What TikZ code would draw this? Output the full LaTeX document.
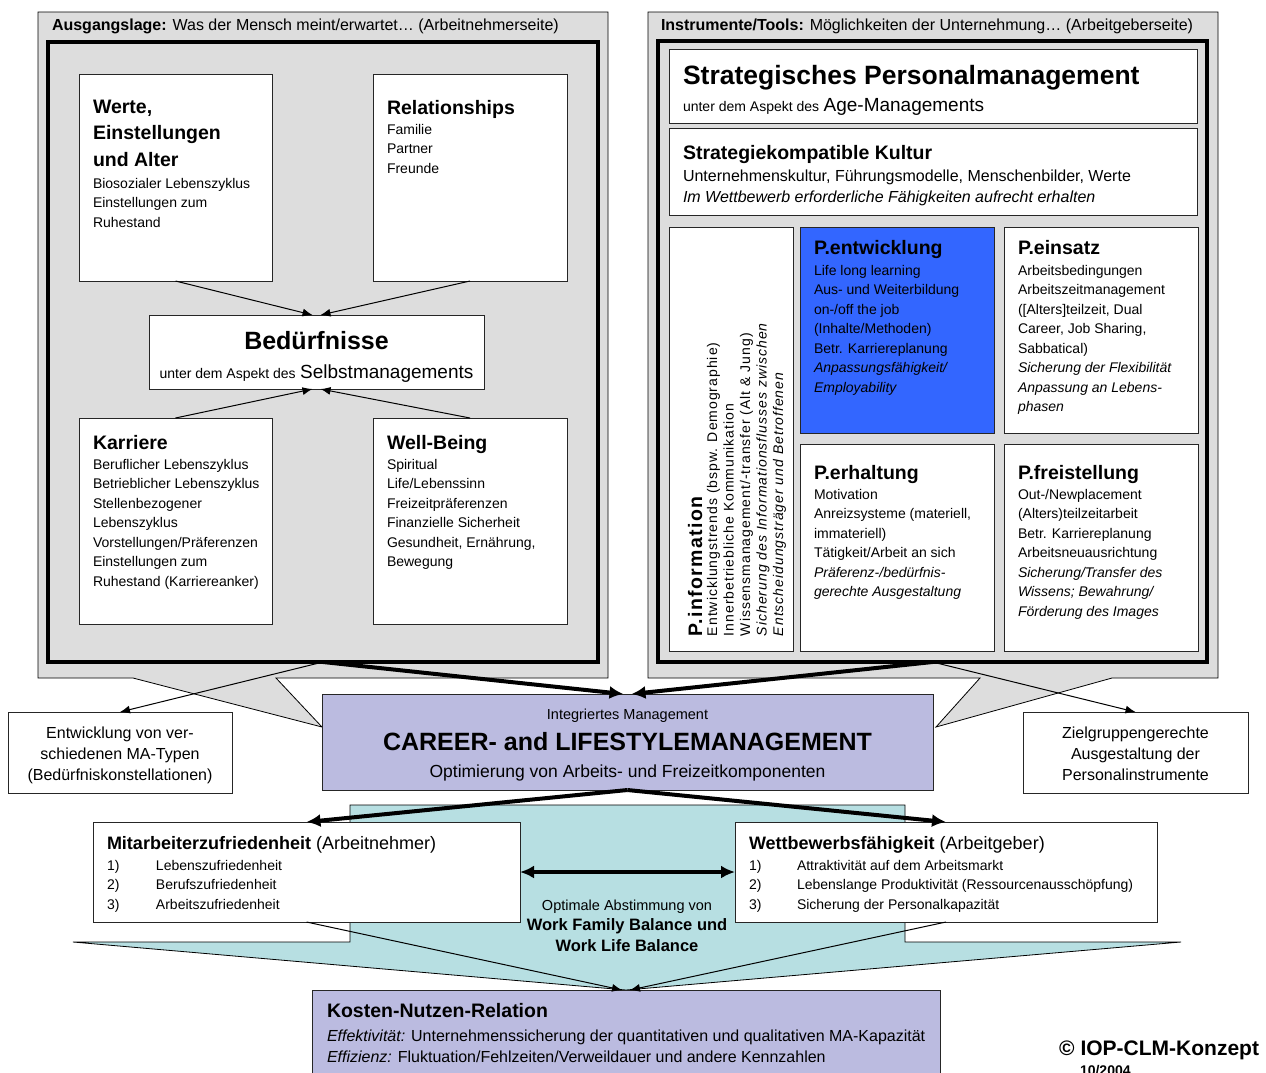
\documentclass[tikz,border=0pt]{standalone}
\usepackage{fontspec}
\setmainfont{Liberation Sans}
\newfontfamily\spacedfont{Liberation Sans}[LetterSpace=7]
\usetikzlibrary{calc,arrows.meta}
\definecolor{panelgray}{RGB}{221,221,221}
\definecolor{pblue}{RGB}{51,102,255}
\definecolor{lav}{RGB}{187,187,224}
\definecolor{tealfill}{RGB}{183,223,226}
\newcommand\fsz[2]{\fontsize{#1}{#2}\selectfont}
\begin{document}
\begin{tikzpicture}[x=1pt,y=-1pt,
  pbox/.style={draw=black!85, line width=0.9pt, fill=white, anchor=north west, inner sep=0pt, outer sep=0pt},
  frame/.style={draw=black, line width=4pt, anchor=north west, inner sep=0pt, outer sep=0pt},
  txt/.style={anchor=north west, inner sep=0pt, outer sep=0pt, align=left},
  ctxt/.style={inner sep=0pt, outer sep=0pt, align=center},
  head/.style={font=\fsz{19.5}{26.5}\bfseries},
  body/.style={font=\fsz{14}{19.5}},
  tarrow/.style={line width=1pt, -{Latex[length=10pt,width=8pt]}},
  barrow/.style={line width=4pt, -{Latex[length=14pt,width=13pt]}},
  bdarrow/.style={line width=4pt, {Latex[length=14pt,width=13pt]}-{Latex[length=14pt,width=13pt]}},
]
\useasboundingbox[fill=white] (0,0) rectangle (1266,1072);

% ---------------- left panel ----------------
\draw[fill=panelgray, line width=0.8pt] (38,12) -- (608,12) -- (608,678) -- (276,678) -- (322,727) -- (133,678) -- (38,678) -- cycle;
\node[txt, font=\fsz{16}{19}] (ltitle) at (52,19) {\textbf{Ausgangslage:} Was der Mensch meint/erwartet… (Arbeitnehmerseite)};
\node[frame, minimum width=550, minimum height=620] (linner) at (48,42) {};

\node[pbox, minimum width=193, minimum height=207] (werte) at (79,74) {};
\node[pbox, minimum width=194, minimum height=207] (rel) at (373,74) {};
\node[pbox, minimum width=335, minimum height=74] (bed) at (149,315) {};
\node[pbox, minimum width=193, minimum height=206] (kar) at (79,418) {};
\node[pbox, minimum width=194, minimum height=206] (well) at (373,418) {};

\node[txt, head] (werteH) at (93,100) {Werte,\\Einstellungen\\und Alter};
\node[txt, body] (werteB) at (93,178) {Biosozialer Lebenszyklus\\Einstellungen zum\\Ruhestand};
\node[txt, head] (relH) at (387,100) {Relationships};
\node[txt, body] (relB) at (387,124) {Familie\\Partner\\Freunde};
\node[ctxt, anchor=north, font=\fsz{25}{30}\bfseries] (bedH) at (316.5,331) {Bedürfnisse};
\node[ctxt, anchor=base, font=\fsz{16}{19}] (bedS) at (316.5,378) {{\fsz{14}{16}unter dem Aspekt des} {\fsz{19}{22}Selbstmanagements}};
\node[txt, head] (karH) at (93,435) {Karriere};
\node[txt, body] (karB) at (93,459) {Beruflicher Lebenszyklus\\Betrieblicher Lebenszyklus\\Stellenbezogener\\Lebenszyklus\\Vorstellungen/Präferenzen\\Einstellungen zum\\Ruhestand (Karriereanker)};
\node[txt, head] (wellH) at (387,435) {Well-Being};
\node[txt, body] (wellB) at (387,459) {Spiritual\\Life/Lebenssinn\\Freizeitpräferenzen\\Finanzielle Sicherheit\\Gesundheit, Ernährung,\\Bewegung};

\draw[tarrow] (werte.south) -- ($(bed.north)+(-4,0)$);
\draw[tarrow] (rel.south) -- ($(bed.north)+(4,0)$);
\draw[tarrow] (kar.north) -- ($(bed.south)+(-4,0)$);
\draw[tarrow] (well.north) -- ($(bed.south)+(4,0)$);

% ---------------- right panel ----------------
\draw[fill=panelgray, line width=0.8pt] (648,12) -- (1218,12) -- (1218,678) -- (1112,678) -- (936,727) -- (980,678) -- (648,678) -- cycle;
\node[txt, font=\fsz{16}{19}] (rtitle) at (661,19) {\textbf{Instrumente/Tools:} Möglichkeiten der Unternehmung… (Arbeitgeberseite)};
\node[frame, minimum width=549, minimum height=621] (rinner) at (658,41) {};

\node[pbox, minimum width=528, minimum height=74] (strat) at (669,49) {};
\node[pbox, minimum width=528, minimum height=87] (kult) at (669,128) {};
\node[pbox, minimum width=124, minimum height=424] (pinfo) at (669,227) {};
\node[pbox, fill=pblue, minimum width=194, minimum height=206] (pent) at (800,227) {};
\node[pbox, minimum width=194, minimum height=206] (pein) at (1004,227) {};
\node[pbox, minimum width=194, minimum height=207] (perh) at (800,444) {};
\node[pbox, minimum width=194, minimum height=207] (pfrei) at (1004,444) {};

\node[txt, font=\fsz{26.5}{30}\bfseries] (stratH) at (683,65.5) {Strategisches Personalmanagement};
\node[inner sep=0pt, outer sep=0pt, anchor=base west, font=\fsz{16}{19}] (stratS) at (683,111) {{\fsz{14}{16}unter dem Aspekt des} {\fsz{19}{22}Age-Managements}};
\node[txt, font=\fsz{19.5}{24}\bfseries] (kulH) at (683,145) {Strategiekompatible Kultur};
\node[txt, font=\fsz{16}{21}] (kulB) at (683,170) {Unternehmenskultur, Führungsmodelle, Menschenbilder, Werte\\\textit{Im Wettbewerb erforderliche Fähigkeiten aufrecht erhalten}};

\node[txt, head] (pentH) at (814,240) {P.entwicklung};
\node[txt, body] (pentB) at (814,265) {Life long learning\\Aus- und Weiterbildung\\on-/off the job\\(Inhalte/Methoden)\\Betr. Karriereplanung\\\textit{Anpassungsfähigkeit/}\\\textit{Employability}};
\node[txt, head] (peinH) at (1018,240) {P.einsatz};
\node[txt, body] (peinB) at (1018,265) {Arbeitsbedingungen\\Arbeitszeitmanagement\\([Alters]teilzeit, Dual\\Career, Job Sharing,\\Sabbatical)\\\textit{Sicherung der Flexibilität}\\\textit{Anpassung an Lebens-}\\\textit{phasen}};
\node[txt, head] (perhH) at (814,465) {P.erhaltung};
\node[txt, body] (perhB) at (814,489) {Motivation\\Anreizsysteme (materiell,\\immateriell)\\Tätigkeit/Arbeit an sich\\\textit{Präferenz-/bedürfnis-}\\\textit{gerechte Ausgestaltung}};
\node[txt, head] (pfreiH) at (1018,465) {P.freistellung};
\node[txt, body] (pfreiB) at (1018,489) {Out-/Newplacement\\(Alters)teilzeitarbeit\\Betr. Karriereplanung\\Arbeitsneuausrichtung\\\textit{Sicherung/Transfer des}\\\textit{Wissens; Bewahrung/}\\\textit{Förderung des Images}};

\node[txt, rotate=90, font=\spacedfont\fsz{19.5}{22}\bfseries] (pinfoH) at (688,636) {P.information};
\node[txt, rotate=90, font=\spacedfont\fsz{14}{16.5}] (pinfoB) at (707,636) {Entwicklungstrends (bspw. Demographie)\\Innerbetriebliche Kommunikation\\Wissensmanagement/-transfer (Alt \& Jung)\\\textit{Sicherung des Informationsflusses zwischen}\\\textit{Entscheidungsträger und Betroffenen}};

% ---------------- middle ----------------
\node[pbox, minimum width=224, minimum height=81] (entw) at (8,712) {};
\node[ctxt, anchor=north, font=\fsz{16}{21}] (entwT) at (120,726.5) {Entwicklung von ver-\\schiedenen MA-Typen\\(Bedürfniskonstellationen)};
\node[pbox, minimum width=225, minimum height=81] (ziel) at (1023,712) {};
\node[ctxt, anchor=north, font=\fsz{16}{21}] (zielT) at (1135.5,726.5) {Zielgruppengerechte\\Ausgestaltung der\\Personalinstrumente};

\node[pbox, fill=lav, minimum width=611, minimum height=96] (career) at (322,694) {};
\node[ctxt, anchor=base, font=\fsz{14.5}{17}] (carT) at (627.5,719) {Integriertes Management};
\node[ctxt, anchor=base, font=\fsz{25}{30}\bfseries] (carH) at (627.5,750) {CAREER- and LIFESTYLEMANAGEMENT};
\node[ctxt, anchor=base, font=\fsz{17.5}{21}] (carS) at (627.5,777) {Optimierung von Arbeits- und Freizeitkomponenten};

\draw[tarrow] (linner.south) -- (entw.north);
\draw[tarrow] (rinner.south) -- (ziel.north);
\draw[barrow] (linner.south) -- ($(career.north)+(-4,0)$);
\draw[barrow] (rinner.south) -- ($(career.north)+(4,0)$);

% ---------------- lower part ----------------
\draw[fill=tealfill, line width=0.8pt] (350,805) -- (905,805) -- (905,942) -- (1181,942) -- (626,990) -- (73,942) -- (350,942) -- cycle;

\node[pbox, minimum width=427, minimum height=100] (mit) at (93,822) {};
\node[pbox, minimum width=422, minimum height=100] (wet) at (735,822) {};
\node[inner sep=0pt, outer sep=0pt, anchor=base west, font=\fsz{18}{21}] (mitH) at (107,849.5) {\textbf{Mitarbeiterzufriedenheit} (Arbeitnehmer)};
\node[txt, body] (mitL) at (107,860) {\makebox[49pt][l]{1)}Lebenszufriedenheit\\\makebox[49pt][l]{2)}Berufszufriedenheit\\\makebox[49pt][l]{3)}Arbeitszufriedenheit};
\node[inner sep=0pt, outer sep=0pt, anchor=base west, font=\fsz{18}{21}] (wetH) at (749,849.5) {\textbf{Wettbewerbsfähigkeit} (Arbeitgeber)};
\node[txt, body] (wetL) at (749,860) {\makebox[48pt][l]{1)}Attraktivität auf dem Arbeitsmarkt\\\makebox[48pt][l]{2)}Lebenslange Produktivität (Ressourcenausschöpfung)\\\makebox[48pt][l]{3)}Sicherung der Personalkapazität};

\node[ctxt, anchor=base, font=\fsz{14.5}{17}] (optT) at (627,910) {Optimale Abstimmung von};
\node[ctxt, anchor=north, font=\fsz{16.5}{21}\bfseries] (wflT) at (627,919) {Work Family Balance und\\Work Life Balance};

\node[pbox, fill=lav, minimum width=628, minimum height=110] (kost) at (312,990) {};
\node[inner sep=0pt, outer sep=0pt, anchor=base west, font=\fsz{19.5}{24}\bfseries] (kostH) at (327,1017) {Kosten-Nutzen-Relation};
\node[txt, font=\fsz{16}{21}] (kostB) at (327,1029.5) {\textit{Effektivität:} Unternehmenssicherung der quantitativen und qualitativen MA-Kapazität\\\textit{Effizienz:} Fluktuation/Fehlzeiten/Verweildauer und andere Kennzahlen};

\draw[barrow] (career.south) -- (mit.north);
\draw[barrow] (career.south) -- (wet.north);
\draw[bdarrow] (mit.east) -- (wet.west);
\draw[tarrow] (mit.south) -- ($(kost.north)+(-4,0)$);
\draw[tarrow] (wet.south) -- ($(kost.north)+(4,0)$);

\node[inner sep=0pt, outer sep=0pt, anchor=base east, font=\fsz{21}{24}\bfseries] (copyT) at (1259,1055.5) {© IOP-CLM-Konzept};
\node[inner sep=0pt, outer sep=0pt, anchor=base west, font=\fsz{14}{16}\bfseries] (dateT) at (1080,1075) {10/2004};
\end{tikzpicture}
\end{document}
